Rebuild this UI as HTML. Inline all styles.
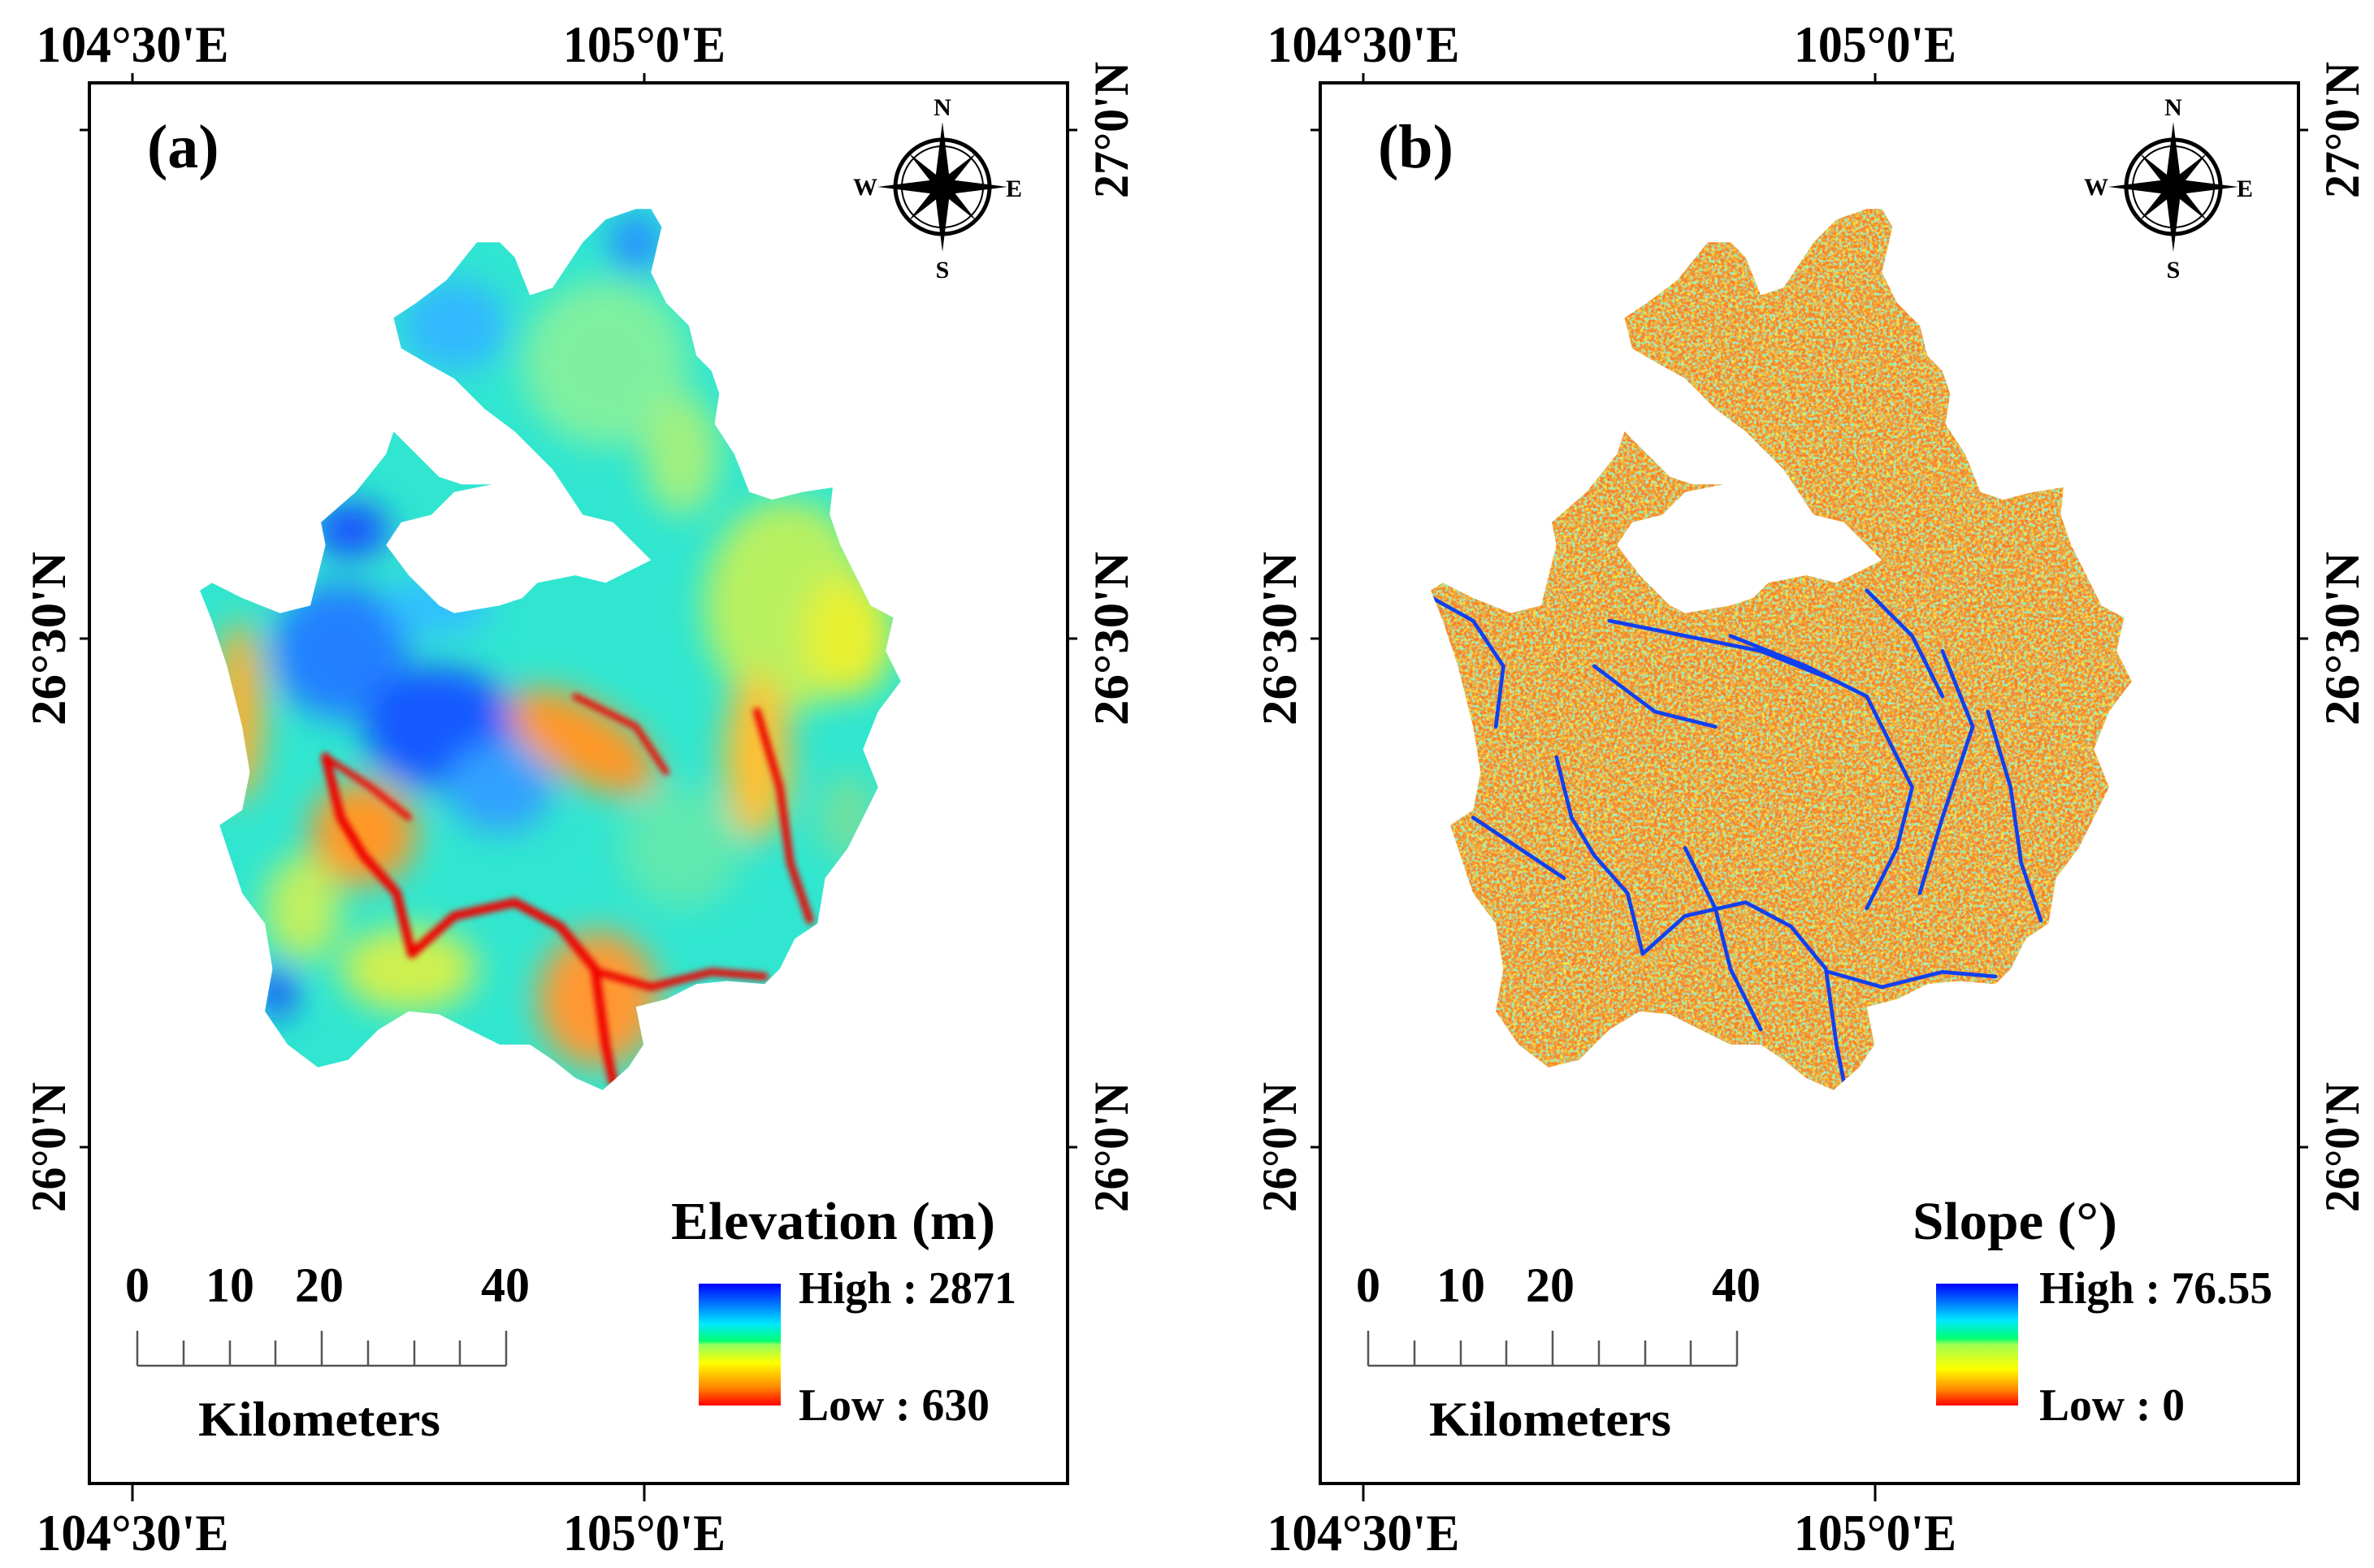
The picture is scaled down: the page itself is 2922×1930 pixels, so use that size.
<!DOCTYPE html>
<html><head><meta charset="utf-8"><style>
html,body{margin:0;padding:0;background:#fff;}
svg{display:block;}
text{font-family:"Liberation Serif",serif;font-weight:bold;fill:#000;}
</style></head><body>
<svg id="fig" width="2922" height="1930" viewBox="0 0 2922 1930" xmlns="http://www.w3.org/2000/svg">
<defs>
  <filter id="blur" x="-30%" y="-30%" width="160%" height="160%"><feGaussianBlur stdDeviation="11"/></filter>
  <filter id="blur2" x="-20%" y="-20%" width="140%" height="140%"><feGaussianBlur stdDeviation="2"/></filter>
  <filter id="noiseY" x="0" y="0" width="100%" height="100%">
    <feTurbulence type="fractalNoise" baseFrequency="0.45" numOctaves="2" seed="4" result="t"/>
    <feColorMatrix in="t" type="matrix" values="0 0 0 0 1  0 0 0 0 0.85  0 0 0 0 0.05  0 0 0 -3 1.75"/>
  </filter>
  <filter id="noiseG" x="0" y="0" width="100%" height="100%">
    <feTurbulence type="fractalNoise" baseFrequency="0.5" numOctaves="2" seed="11" result="t"/>
    <feColorMatrix in="t" type="matrix" values="0 0 0 0 0.3  0 0 0 0 0.9  0 0 0 0 0.6  0 0 0 -4 2.1"/>
  </filter>
  <filter id="noiseR" x="0" y="0" width="100%" height="100%">
    <feTurbulence type="fractalNoise" baseFrequency="0.55" numOctaves="1" seed="7" result="t"/>
    <feColorMatrix in="t" type="matrix" values="0 0 0 0 0.95  0 0 0 0 0.15  0 0 0 0 0.05  0 0 0 3 -1.4"/>
  </filter>
  <linearGradient id="elevGrad" x1="0" y1="0" x2="0" y2="1">
    <stop offset="0" stop-color="#0000ff"/><stop offset="0.33" stop-color="#00e8ff"/>
    <stop offset="0.47" stop-color="#00ff70"/><stop offset="0.5" stop-color="#90ff60"/>
    <stop offset="0.65" stop-color="#ffff00"/><stop offset="0.85" stop-color="#ff8800"/>
    <stop offset="1" stop-color="#ff0000"/></linearGradient>
  <linearGradient id="slopeGrad" x1="0" y1="0" x2="0" y2="1">
    <stop offset="0" stop-color="#0000ff"/><stop offset="0.3" stop-color="#00e8ff"/>
    <stop offset="0.45" stop-color="#00ff70"/><stop offset="0.5" stop-color="#a0ff50"/>
    <stop offset="0.7" stop-color="#ffff00"/><stop offset="0.87" stop-color="#ff8800"/>
    <stop offset="1" stop-color="#ff0000"/></linearGradient>
  <clipPath id="clipA"><path id="outlineA" d=""/></clipPath>
  <clipPath id="clipB"><path id="outlineB" d=""/></clipPath>
</defs>

<g id="panelA">
  <rect x="110" y="102" width="1204" height="1724" fill="#fff" stroke="#000" stroke-width="4"/>
  <g clip-path="url(#clipA)">
    <g transform="scale(1.8635)">
      <rect x="120" y="130" width="490" height="600" fill="#30e6d0"/>
      <g filter="url(#blur)">
        <ellipse cx="400" cy="240" rx="55" ry="55" fill="#80f0a0"/>
        <ellipse cx="450" cy="300" rx="25" ry="40" fill="#a0f080"/>
        <ellipse cx="520" cy="400" rx="55" ry="70" fill="#b8f060"/>
        <ellipse cx="560" cy="420" rx="30" ry="40" fill="#e8f030"/>
        <ellipse cx="300" cy="215" rx="35" ry="30" fill="#30b8ff"/>
        <ellipse cx="420" cy="160" rx="18" ry="20" fill="#2890ff"/>
        <ellipse cx="232" cy="350" rx="25" ry="18" fill="#1850ff"/>
        <ellipse cx="225" cy="430" rx="45" ry="45" fill="#2080ff"/>
        <ellipse cx="290" cy="480" rx="50" ry="40" fill="#1858ff"/>
        <ellipse cx="330" cy="520" rx="35" ry="30" fill="#30a0ff"/>
        <ellipse cx="290" cy="400" rx="35" ry="20" fill="#30c0ff"/>
        <ellipse cx="183" cy="655" rx="12" ry="18" fill="#1848ff"/>
        <ellipse cx="240" cy="550" rx="35" ry="35" fill="#ff9828"/>
        <ellipse cx="385" cy="490" rx="55" ry="25" fill="#ff9828" transform="rotate(30 385 490)"/>
        <ellipse cx="158" cy="470" rx="16" ry="60" fill="#ffb030"/>
        <ellipse cx="500" cy="500" rx="22" ry="55" fill="#ffc030"/>
        <ellipse cx="395" cy="660" rx="40" ry="45" fill="#ff9830"/>
        <ellipse cx="270" cy="640" rx="45" ry="28" fill="#d0f050"/>
        <ellipse cx="200" cy="600" rx="25" ry="35" fill="#c0f060"/>
        <ellipse cx="450" cy="560" rx="40" ry="40" fill="#60e8b0"/>
        <ellipse cx="560" cy="540" rx="20" ry="30" fill="#70e0a0"/>
      </g>
      <g fill="none" stroke="#f00000" stroke-linecap="round" stroke-linejoin="round" filter="url(#blur2)">
        <path stroke-width="6" d="M215,500 L225,540 L240,565 L262,590 L272,630 L300,605 L340,596 L370,612 L393,640 L400,690 L405,715"/>
        <path stroke-width="5" d="M395,642 L430,652 L470,642 L505,645"/>
        <path stroke-width="5" d="M500,470 L515,520 L522,570 L535,608"/>
        <path stroke-width="4" d="M215,500 L245,520 L270,540"/>
        <path stroke-width="4" d="M380,460 L420,480 L440,510"/>
      </g>
    </g>
  </g>
  <text x="181" y="206" font-size="76">(a)</text>
  <g>
    <text x="169" y="1602" font-size="60" text-anchor="middle">0</text>
    <text x="283" y="1602" font-size="60" text-anchor="middle">10</text>
    <text x="393" y="1602" font-size="60" text-anchor="middle">20</text>
    <text x="622" y="1602" font-size="60" text-anchor="middle">40</text>
    <g stroke="#555" stroke-width="2.5">
      <line x1="169" y1="1681" x2="623" y2="1681"/>
      <line x1="169" y1="1638" x2="169" y2="1681"/><line x1="226" y1="1650" x2="226" y2="1681"/>
      <line x1="283" y1="1650" x2="283" y2="1681"/><line x1="339" y1="1650" x2="339" y2="1681"/>
      <line x1="396" y1="1638" x2="396" y2="1681"/><line x1="453" y1="1650" x2="453" y2="1681"/>
      <line x1="510" y1="1650" x2="510" y2="1681"/><line x1="566" y1="1650" x2="566" y2="1681"/>
      <line x1="623" y1="1638" x2="623" y2="1681"/>
    </g>
    <text x="244" y="1767" font-size="60" textLength="298" lengthAdjust="spacingAndGlyphs">Kilometers</text>
  </g>
  <g>
    <text x="826" y="1525" font-size="66" textLength="399" lengthAdjust="spacingAndGlyphs">Elevation (m)</text>
    <rect x="860" y="1580" width="101" height="150" fill="url(#elevGrad)"/>
    <text x="983" y="1604" font-size="56" textLength="268" lengthAdjust="spacingAndGlyphs">High : 2871</text>
    <text x="983" y="1748" font-size="56" textLength="235" lengthAdjust="spacingAndGlyphs">Low : 630</text>
  </g>
</g>

<g id="panelB">
  <rect x="1625" y="102" width="1204" height="1724" fill="#fff" stroke="#000" stroke-width="4"/>
  <g clip-path="url(#clipB)">
    <g transform="translate(1515,0) scale(1.8635)">
      <rect x="120" y="130" width="490" height="600" fill="#f88a20"/>
      <rect x="120" y="130" width="490" height="600" filter="url(#noiseY)"/>
      <rect x="120" y="130" width="490" height="600" filter="url(#noiseR)"/>
      <rect x="120" y="130" width="490" height="600" filter="url(#noiseG)"/>
      <g fill="none" stroke="#1040f0" stroke-width="2.5" stroke-linecap="round" stroke-linejoin="round">
        <path d="M215,500 L225,540 L240,565 L262,590 L272,630 L300,605 L340,596 L370,612 L393,640 L400,690 L405,715"/>
        <path d="M395,642 L430,652 L470,642 L505,645"/>
        <path d="M500,470 L515,520 L522,570 L535,608"/>
        <path d="M330,420 L380,440 L420,460 L450,520 L440,560 L420,600"/>
        <path d="M470,430 L490,480 L470,540 L455,590"/>
        <path d="M133,395 L160,410 L180,440 L175,480"/>
        <path d="M160,540 L190,560 L220,580"/>
        <path d="M300,560 L320,600 L330,640 L350,680"/>
        <path d="M250,410 L300,420 L350,430 L400,450"/>
        <path d="M420,390 L450,420 L470,460"/>
        <path d="M240,440 L280,470 L320,480"/>
      </g>
    </g>
  </g>
  <text x="1696" y="206" font-size="76">(b)</text>
  <g>
    <text x="1684" y="1602" font-size="60" text-anchor="middle">0</text>
    <text x="1798" y="1602" font-size="60" text-anchor="middle">10</text>
    <text x="1908" y="1602" font-size="60" text-anchor="middle">20</text>
    <text x="2137" y="1602" font-size="60" text-anchor="middle">40</text>
    <g stroke="#555" stroke-width="2.5">
      <line x1="1684" y1="1681" x2="2138" y2="1681"/>
      <line x1="1684" y1="1638" x2="1684" y2="1681"/><line x1="1741" y1="1650" x2="1741" y2="1681"/>
      <line x1="1798" y1="1650" x2="1798" y2="1681"/><line x1="1854" y1="1650" x2="1854" y2="1681"/>
      <line x1="1911" y1="1638" x2="1911" y2="1681"/><line x1="1968" y1="1650" x2="1968" y2="1681"/>
      <line x1="2025" y1="1650" x2="2025" y2="1681"/><line x1="2081" y1="1650" x2="2081" y2="1681"/>
      <line x1="2138" y1="1638" x2="2138" y2="1681"/>
    </g>
    <text x="1759" y="1767" font-size="60" textLength="298" lengthAdjust="spacingAndGlyphs">Kilometers</text>
  </g>
  <g>
    <text x="2354" y="1525" font-size="66" textLength="252" lengthAdjust="spacingAndGlyphs">Slope (°)</text>
    <rect x="2383" y="1580" width="101" height="150" fill="url(#slopeGrad)"/>
    <text x="2510" y="1604" font-size="56" textLength="287" lengthAdjust="spacingAndGlyphs">High : 76.55</text>
    <text x="2510" y="1748" font-size="56" textLength="179" lengthAdjust="spacingAndGlyphs">Low : 0</text>
  </g>
</g>
<g id="axes"></g>
</svg>
<script>
const lonLabels = ["104°30'E", "105°0'E"];
const lonVals = [104.5, 105.0];
const latLabels = ["27°0'N", "26°30'N", "26°0'N"];
const latVals = [27.0, 26.5, 26.0];
const latShowLeft = [false, true, true];
const outline = [[430,138],[437,150],[430,180],[440,200],[455,215],[460,235],[470,245],[475,260],[472,280],[485,300],[495,325],[510,330],[530,325],[550,322],[548,340],[555,360],[565,380],[575,400],[590,408],[585,430],[595,450],[580,470],[570,495],[580,520],[570,540],[560,560],[545,580],[540,610],[525,620],[515,640],[505,650],[480,648],[460,650],[440,660],[420,665],[425,690],[415,705],[398,720],[380,712],[365,700],[350,690],[330,690],[310,680],[290,670],[270,668],[250,680],[230,700],[210,705],[190,690],[175,668],[180,640],[175,610],[160,590],[150,560],[145,545],[160,535],[165,510],[160,480],[150,440],[140,410],[132,390],[140,385],[160,395],[185,405],[205,400],[215,360],[212,345],[235,325],[255,300],[260,285],[275,300],[290,315],[305,320],[325,320],[300,325],[285,340],[265,345],[255,360],[270,380],[290,400],[300,405],[330,400],[345,395],[355,385],[380,380],[400,385],[420,375],[430,370],[420,360],[405,345],[385,340],[365,310],[340,285],[320,270],[300,250],[282,240],[265,230],[260,210],[275,200],[295,185],[315,160],[330,160],[340,170],[350,195],[365,190],[385,160],[400,145],[420,138]];
const S = 1.8635;
function pathFor(off){return 'M'+outline.map(p=>((p[0]*S+off).toFixed(1)+','+(p[1]*S).toFixed(1))).join(' L')+' Z';}
document.getElementById('outlineA').setAttribute('d', pathFor(0));
document.getElementById('outlineB').setAttribute('d', pathFor(1515));
const NS = 'http://www.w3.org/2000/svg';
function xLon(lon, off){return off + 163 + (lon - 104.5) / 0.5 * 630;}
function yLat(lat){return 160 + (27 - lat) / 0.5 * 626;}
const lonWidths = [237, 200];
const latWidths = [168, 214, 160];
const axes = document.getElementById('axes');
function mk(tag, attrs){const e=document.createElementNS(NS,tag);for(const k in attrs)e.setAttribute(k,attrs[k]);axes.appendChild(e);return e;}
[0,1515].forEach(off=>{
  const L = 110+off, R = 1314+off;
  lonVals.forEach((v,i)=>{
    const x = xLon(v, off);
    const t1 = mk('line',{x1:x,y1:102,x2:x,y2:90,stroke:'#000','stroke-width':3});
    
    
    const t2 = mk('line',{x1:x,y1:1826,x2:x,y2:1848,stroke:'#000','stroke-width':3});
    
    
    const a = mk('text',{x:x-lonWidths[i]/2,y:76,'font-size':64,textLength:lonWidths[i],lengthAdjust:'spacingAndGlyphs'});
    a.textContent = lonLabels[i];
    
    
    const b = mk('text',{x:x-lonWidths[i]/2,y:1908,'font-size':64,textLength:lonWidths[i],lengthAdjust:'spacingAndGlyphs'});
    b.textContent = lonLabels[i];
    
    
  });
  latVals.forEach((v,i)=>{
    const y = yLat(v);
    const t1 = mk('line',{x1:L,y1:y,x2:L-12,y2:y,stroke:'#000','stroke-width':3});
    
    
    const t2 = mk('line',{x1:R,y1:y,x2:R+12,y2:y,stroke:'#000','stroke-width':3});
    
    
    const w = latWidths[i];
    if (latShowLeft[i]) {
      const a = mk('text',{x:-w/2,y:0,'font-size':60,textLength:w,lengthAdjust:'spacingAndGlyphs',transform:'translate('+(L-30)+','+y+') rotate(-90)'});
      a.textContent = latLabels[i];
      
      
    }
    const b = mk('text',{x:-w/2,y:0,'font-size':60,textLength:w,lengthAdjust:'spacingAndGlyphs',transform:'translate('+(R+74)+','+y+') rotate(-90)'});
    b.textContent = latLabels[i];
    
    
  });
  const cx = 1160+off, cy = 230;
  const g = document.createElementNS(NS,'g');
  
  
  axes.appendChild(g);
  g.innerHTML = '<circle cx="'+cx+'" cy="'+cy+'" r="58" fill="none" stroke="#000" stroke-width="5"/>'+
    '<circle cx="'+cx+'" cy="'+cy+'" r="50" fill="none" stroke="#000" stroke-width="2"/>'+
    '<polygon points="'+cx+','+(cy-80)+' '+(cx+10)+','+cy+' '+cx+','+(cy+80)+' '+(cx-10)+','+cy+'" fill="#000"/>'+
    '<polygon points="'+(cx-80)+','+cy+' '+cx+','+(cy-10)+' '+(cx+80)+','+cy+' '+cx+','+(cy+10)+'" fill="#000"/>'+
    '<polygon points="'+(cx-42)+','+(cy-42)+' '+(cx+7)+','+(cy-3)+' '+(cx+42)+','+(cy+42)+' '+(cx-7)+','+(cy+3)+'" fill="#000"/>'+
    '<polygon points="'+(cx+42)+','+(cy-42)+' '+(cx+3)+','+(cy+7)+' '+(cx-42)+','+(cy+42)+' '+(cx-3)+','+(cy-7)+'" fill="#000"/>'+
    '<text x="'+cx+'" y="'+(cy-88)+'" font-size="30" text-anchor="middle" font-weight="normal">N</text>'+
    '<text x="'+cx+'" y="'+(cy+112)+'" font-size="30" text-anchor="middle" font-weight="normal">S</text>'+
    '<text x="'+(cx-95)+'" y="'+(cy+10)+'" font-size="30" text-anchor="middle" font-weight="normal">W</text>'+
    '<text x="'+(cx+88)+'" y="'+(cy+12)+'" font-size="30" text-anchor="middle" font-weight="normal">E</text>';
});
</script>
</body></html>
